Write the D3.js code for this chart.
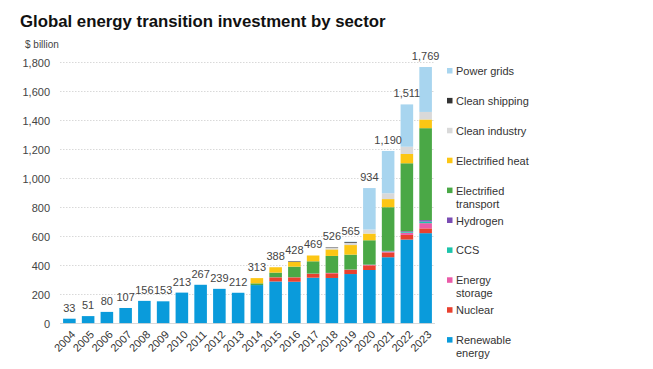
<!DOCTYPE html>
<html><head><meta charset="utf-8">
<script src="https://cdn.jsdelivr.net/npm/d3@7"></script>
<style>
body{margin:0;background:#fff;}
svg{font-family:"Liberation Sans",Arial,sans-serif;}
</style></head>
<body><svg id="chart" width="653" height="369"></svg>
<script>
const years = [2004,2005,2006,2007,2008,2009,2010,2011,2012,2013,2014,2015,2016,2017,2018,2019,2020,2021,2022,2023];
const renewable = [33,51,80,107,156,153,213,267,239,212,265,290,288,316,314,341,369,457,579,623];
const nuclear   = [0,0,0,0,0,0,0,0,0,0,0,28,30,26,32,28,32,33,32,33];
const storage   = [0,0,0,0,0,0,0,0,0,0,0,1,1,2,3,3,3,6,15,36];
const ccs       = [0,0,0,0,0,0,0,0,0,0,0,0,0,0,0,0,1,3,5,11];
const hydrogen  = [0,0,0,0,0,0,0,0,0,0,0,0,0,0,0,0,1,2,5,10];
const transport = [0,0,0,0,0,0,0,0,0,0,12,32,73,85,117,103,168,301,469,634];
const heat      = [0,0,0,0,0,0,0,0,0,0,36,37,32,40,45,66,46,56,64,60];
const industry  = [0,0,0,0,0,0,0,0,0,0,0,0,0,0,12,16,28,40,50,52];
const shipping  = [0,0,0,0,0,0,0,0,0,0,0,0,4,0,3,5,0,0,0,0];
const grids     = [0,0,0,0,0,0,0,0,0,0,0,0,0,0,0,3,286,292,292,310];
const yTicks = [0,200,400,600,800,1000,1200,1400,1600,1800];

const series = [
  {key:"renewable", name:["Renewable","energy"], color:"#0a9bdb", values:renewable},
  {key:"nuclear", name:["Nuclear"], color:"#e8412f", values:nuclear},
  {key:"storage", name:["Energy","storage"], color:"#ea5ba8", values:storage},
  {key:"ccs", name:["CCS"], color:"#1cc4ab", values:ccs},
  {key:"hydrogen", name:["Hydrogen"], color:"#7a4db3", values:hydrogen},
  {key:"transport", name:["Electrified","transport"], color:"#4aa846", values:transport},
  {key:"heat", name:["Electrified heat"], color:"#fcc614", values:heat},
  {key:"industry", name:["Clean industry"], color:"#d9d9d9", values:industry},
  {key:"shipping", name:["Clean shipping"], color:"#333333", values:shipping},
  {key:"grids", name:["Power grids"], color:"#a8d5ef", values:grids}
];

const rows = years.map((y,i)=>{const r={year:y}; series.forEach(s=>r[s.key]=s.values[i]); return r;});
const stack = d3.stack().keys(series.map(s=>s.key))(rows);

const svg = d3.select("#chart");
const x = d3.scaleBand().domain(years).range([60,435]).paddingInner(0.33).paddingOuter(0.165);
const y = d3.scaleLinear().domain([0,1800]).range([323.5,62.5]);

// title
svg.append("text").attr("x",20).attr("y",27).attr("font-size",16.8).attr("font-weight","bold")
  .attr("fill","#111").text("Global energy transition investment by sector");
svg.append("text").attr("x",25).attr("y",48).attr("font-size",10).attr("fill","#444").text("$ billion");

// grid
svg.append("g").selectAll("line").data(yTicks.filter(d=>d>0)).join("line")
  .attr("x1",60).attr("x2",435).attr("y1",d=>y(d)).attr("y2",d=>y(d))
  .attr("stroke","#cfcfcf").attr("stroke-width",0.8).attr("stroke-dasharray","1.5,1.5");

// y axis
const yAxis = d3.axisLeft(y).tickValues(yTicks).tickFormat(d3.format(",")).tickSize(0).tickPadding(0);
const gy = svg.append("g").attr("transform","translate(50,0)").call(yAxis);
gy.select(".domain").remove();
gy.selectAll("text").attr("font-size",11).attr("fill","#444").attr("font-family","Liberation Sans, Arial, sans-serif");

// bars
svg.append("g").selectAll("g").data(stack).join("g")
  .attr("fill",(d,i)=>series[i].color)
  .selectAll("rect").data(d=>d).join("rect")
  .attr("x",d=>x(d.data.year)).attr("width",x.bandwidth())
  .attr("y",d=>y(d[1])).attr("height",d=>Math.max(0,y(d[0])-y(d[1])));

// baseline
svg.append("line").attr("x1",60).attr("x2",435).attr("y1",y(0)).attr("y2",y(0))
  .attr("stroke","#d0d0d0").attr("stroke-width",0.8);

// totals
const totals = years.map((yr,i)=>d3.sum(series,s=>s.values[i]));
svg.append("g").selectAll("text").data(years).join("text")
  .attr("x",d=>x(d)+x.bandwidth()/2).attr("y",(d,i)=>y(totals[i])-7)
  .attr("text-anchor","middle").attr("font-size",11).attr("fill","#444")
  .text((d,i)=>d3.format(",")(totals[i]));

// x axis
const xAxis = d3.axisBottom(x).tickSize(0).tickPadding(0);
const gx = svg.append("g").attr("transform",`translate(0,${y(0)})`).call(xAxis);
gx.select(".domain").remove();
gx.selectAll("text").attr("font-size",11).attr("fill","#333").attr("font-family","Liberation Sans, Arial, sans-serif")
  .attr("text-anchor","end").attr("dy","0.35em")
  .attr("transform","translate(4,9) rotate(-45)");

// legend
const legendOrder = series.slice().reverse();
const lg = svg.append("g").selectAll("g").data(legendOrder).join("g")
  .attr("transform",(d,i)=>`translate(447,${71+i*29.9})`);
lg.append("rect").attr("x",0).attr("y",-3).attr("width",5.5).attr("height",5.5).attr("fill",d=>d.color);
lg.each(function(d){
  const t = d3.select(this).append("text").attr("x",9).attr("y",4).attr("font-size",11).attr("fill","#333");
  d.name.forEach((ln,j)=>t.append("tspan").attr("x",9).attr("dy",j?13:0).text(ln));
});
</script></body></html>
